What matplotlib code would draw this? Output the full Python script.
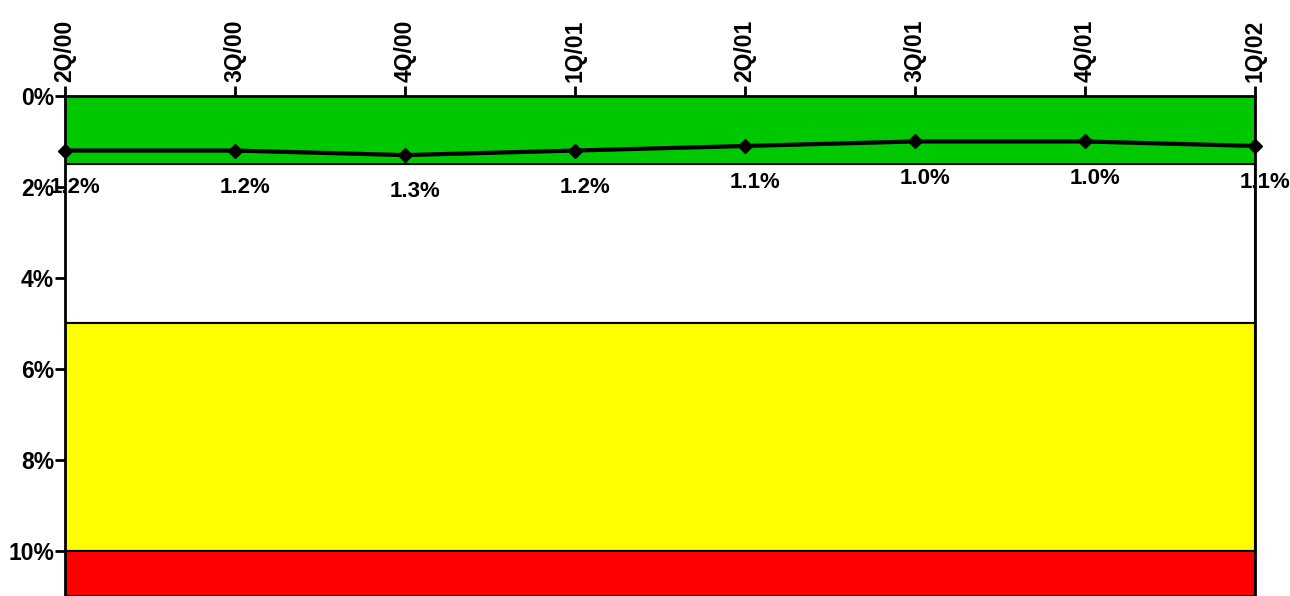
import matplotlib.pyplot as plt
from matplotlib.ticker import FuncFormatter

quarters = ['2Q/00', '3Q/00', '4Q/00', '1Q/01', '2Q/01', '3Q/01', '4Q/01', '1Q/02']
rate = [1.2, 1.2, 1.3, 1.2, 1.1, 1.0, 1.0, 1.1]
band_edges = [0, 1.5, 5, 10, 11]
band_colors = ['#00c800', '#ffffff', '#ffff00', '#ff0000']
y_ticks = [0, 2, 4, 6, 8, 10]

plt.rcParams['font.family'] = ['Liberation Sans', 'DejaVu Sans']
plt.rcParams['font.weight'] = 'bold'

fig = plt.figure(figsize=(12.9, 5.96), dpi=100)
ax = fig.add_axes([65 / 1290, 0, 1190 / 1290, 1 - 96 / 596])

x = list(range(len(quarters)))
for lo, hi, col in zip(band_edges[:-1], band_edges[1:], band_colors):
    # the white band sits under the labels, the coloured ones over them
    z = 1 if col == '#ffffff' else 3
    ax.axhspan(lo, hi, facecolor=col, edgecolor='black', linewidth=1.5, zorder=z)

ax.plot(x, rate, color='black', linewidth=3, marker='D', markersize=7,
        clip_on=False, zorder=4)
for xi, v in zip(x, rate):
    ax.annotate(f'{v:.1f}%', (xi, v), xytext=(7, -19), textcoords='offset points',
                ha='center', va='top', fontsize=16, fontweight='bold', zorder=2,
                annotation_clip=False)

ax.set_xlim(0, len(quarters) - 1)
ax.set_ylim(11, 0)
ax.set_yticks(y_ticks)
ax.yaxis.set_major_formatter(FuncFormatter(lambda v, p: f'{v:.0f}%'))
ax.set_xticks(x)
ax.set_xticklabels(quarters, rotation=90)
ax.xaxis.tick_top()
ax.tick_params(axis='x', direction='out', length=7, width=2, labelsize=16.5, pad=3)
ax.tick_params(axis='y', direction='out', length=7, width=2, labelsize=16.5, pad=1)
for s in ['left', 'right', 'top']:
    ax.spines[s].set_linewidth(2)
    ax.spines[s].set_zorder(5)
ax.spines['bottom'].set_visible(False)

fig.savefig('out.png', dpi=100)
